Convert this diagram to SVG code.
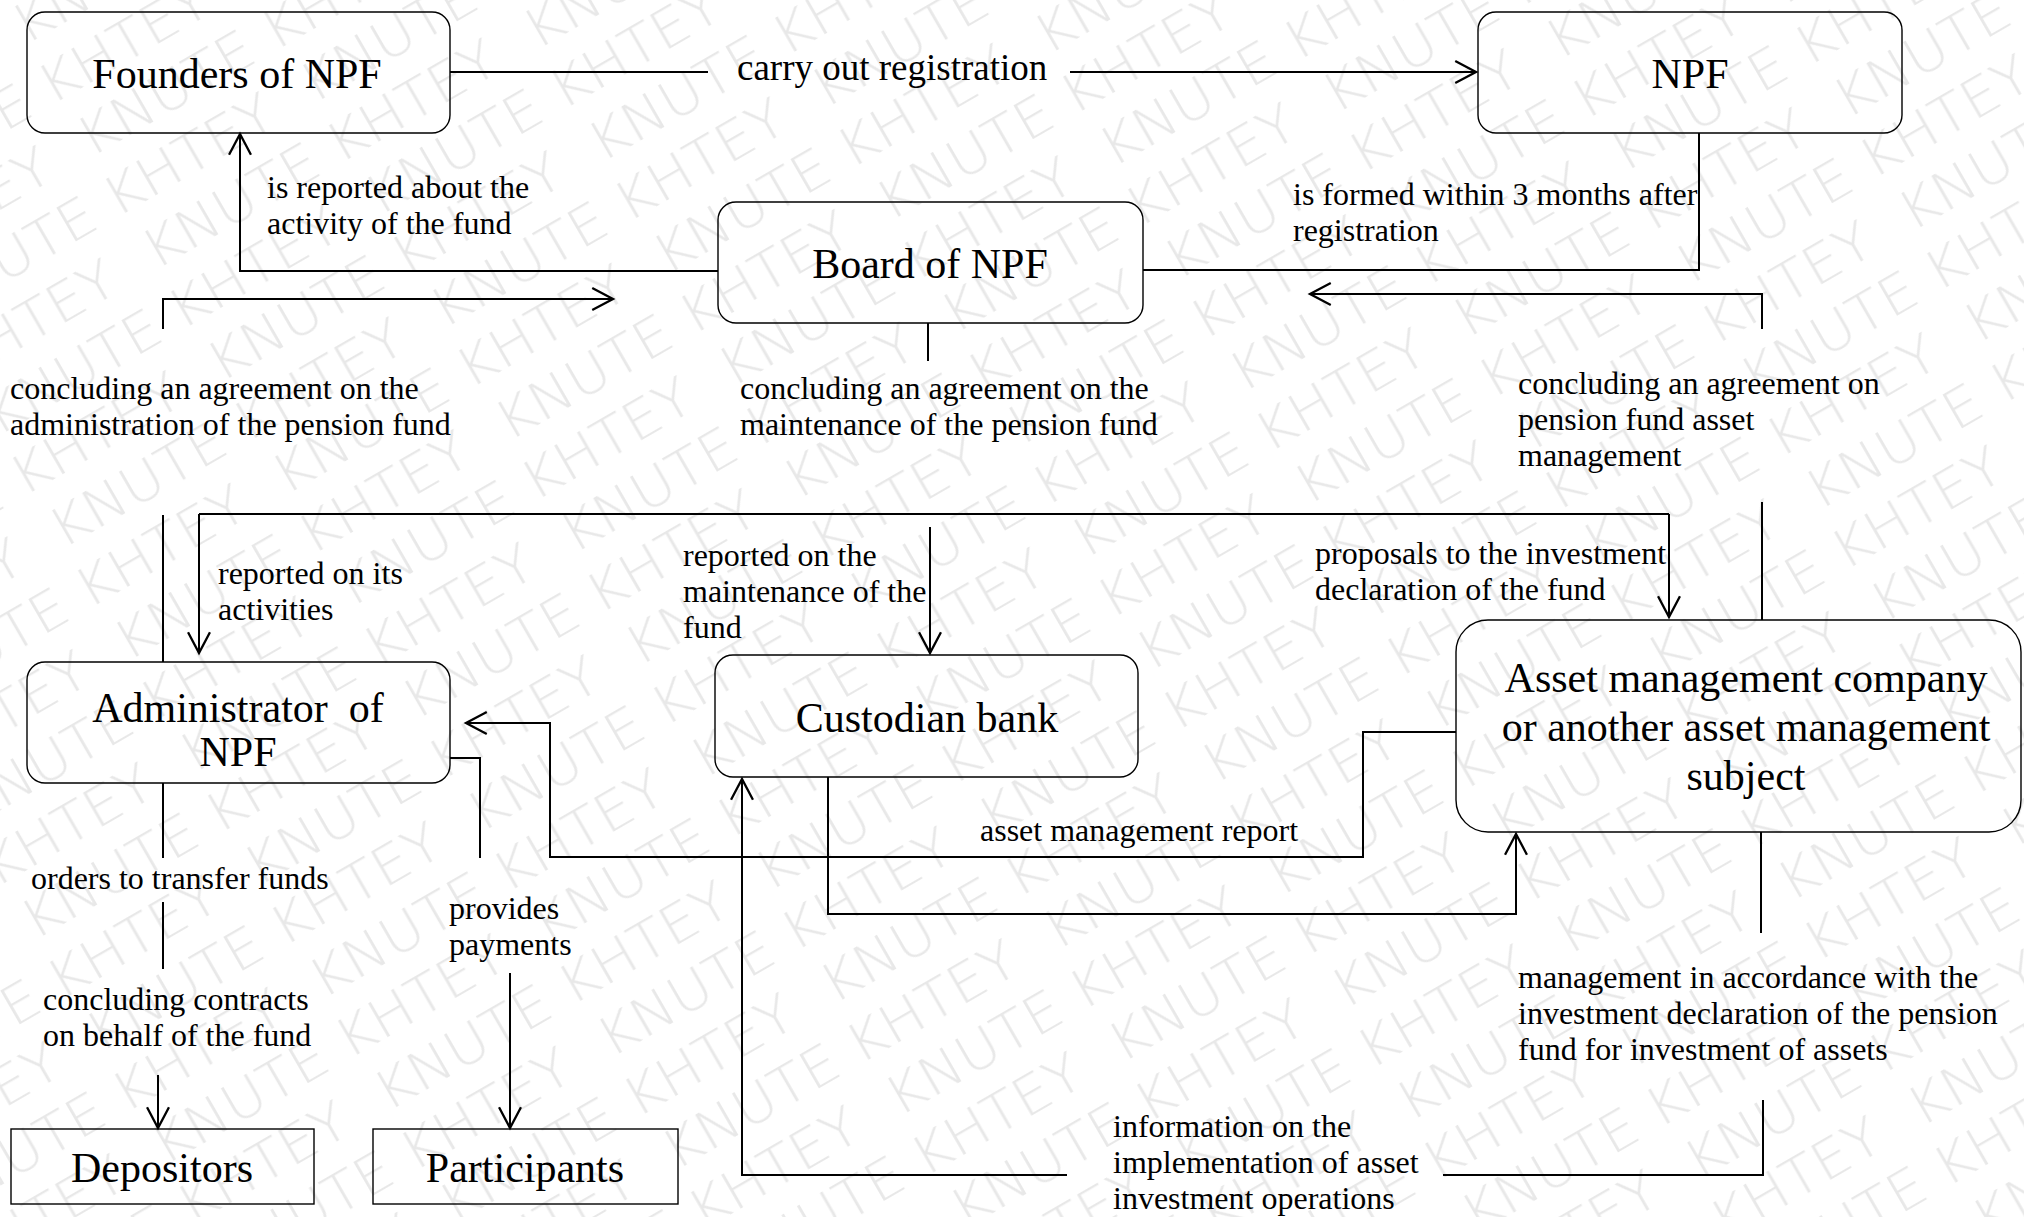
<svg xmlns="http://www.w3.org/2000/svg" width="2024" height="1217" viewBox="0 0 2024 1217">
  <style>
    .box { fill: none; stroke: #000; stroke-width: 1.4; }
    .ttl { font-family: "Liberation Serif", "Times New Roman", serif; font-size: 42px; fill: #000; text-anchor: middle; }
    .lbl { font-family: "Liberation Serif", "Times New Roman", serif; font-size: 32px; fill: #000; }
    .big { font-size: 37px; }
    .ln { fill: none; stroke: #000; stroke-width: 2; }
    .wm { font-family: "DejaVu Sans", sans-serif; font-weight: 200; font-size: 54px; fill: #e8e8e8; }
  </style>
  <defs>
    <marker id="arr" markerUnits="userSpaceOnUse" markerWidth="30" markerHeight="30" viewBox="-22 -12 26 24" refX="0" refY="0" orient="auto" overflow="visible">
      <path d="M-18,-9.5 L0,0 L-18,9.5" fill="none" stroke="#000" stroke-width="2"/>
    </marker>
    <pattern id="wmark" patternUnits="userSpaceOnUse" width="440" height="130" patternTransform="rotate(-30)">
      <text class="wm" x="0" y="52" textLength="400" lengthAdjust="spacingAndGlyphs">KNUTE KHTEY</text>
      <text class="wm" x="220" y="117" textLength="400" lengthAdjust="spacingAndGlyphs">KNUTE KHTEY</text>
      <text class="wm" x="-220" y="117" textLength="400" lengthAdjust="spacingAndGlyphs">KNUTE KHTEY</text>
    </pattern>
  </defs>

  <!-- background with faint repeated watermark -->
  <rect width="2024" height="1217" fill="#fff"/>
  <rect width="2024" height="1217" fill="url(#wmark)"/>

  <!-- nodes -->
  <g id="founders">
    <rect class="box" x="27" y="12" width="423" height="121" rx="18"/>
    <text class="ttl" x="237" y="88">Founders of NPF</text>
  </g>
  <g id="npf">
    <rect class="box" x="1478" y="12" width="424" height="121" rx="18"/>
    <text class="ttl" x="1690" y="88">NPF</text>
  </g>
  <g id="board">
    <rect class="box" x="718" y="202" width="425" height="121" rx="18"/>
    <text class="ttl" x="930" y="278">Board of NPF</text>
  </g>
  <g id="administrator">
    <rect class="box" x="27" y="662" width="423" height="121" rx="18"/>
    <text class="ttl" x="238" y="722" xml:space="preserve">Administrator  of</text>
    <text class="ttl" x="238" y="766">NPF</text>
  </g>
  <g id="custodian">
    <rect class="box" x="715" y="655" width="423" height="122" rx="18"/>
    <text class="ttl" x="927" y="732">Custodian bank</text>
  </g>
  <g id="asset-manager">
    <rect class="box" x="1456" y="620" width="565" height="212" rx="32"/>
    <text class="ttl" x="1746" y="692">Asset management company</text>
    <text class="ttl" x="1746" y="741">or another asset management</text>
    <text class="ttl" x="1746" y="790">subject</text>
  </g>
  <g id="depositors">
    <rect class="box" x="11" y="1129" width="303" height="75"/>
    <text class="ttl" x="162" y="1182">Depositors</text>
  </g>
  <g id="participants">
    <rect class="box" x="373" y="1129" width="305" height="75"/>
    <text class="ttl" x="525" y="1182">Participants</text>
  </g>

  <!-- connectors -->
  <g id="connectors">
    <path class="ln" d="M450,72 H708"/>
    <path class="ln" d="M1070,72 H1476" marker-end="url(#arr)"/>
    <path class="ln" d="M718,271 H240 V134" marker-end="url(#arr)"/>
    <path class="ln" d="M1699,133 V270 H1143"/>
    <path class="ln" d="M1762,329 V294 H1310" marker-end="url(#arr)"/>
    <path class="ln" d="M1762,502 V620"/>
    <path class="ln" d="M163,329 V299 H613" marker-end="url(#arr)"/>
    <path class="ln" d="M163,515 V662"/>
    <path class="ln" d="M928,323 V361"/>
    <path class="ln" d="M930,527 V653" marker-end="url(#arr)"/>
    <path class="ln" d="M199,514 H1669"/>
    <path class="ln" d="M199,514 V653" marker-end="url(#arr)"/>
    <path class="ln" d="M1669,514 V617" marker-end="url(#arr)"/>
    <path class="ln" d="M1456,732 H1363 V857 H550 V723 H466" marker-end="url(#arr)"/>
    <path class="ln" d="M450,758 H480 V858"/>
    <path class="ln" d="M510,973 V1128" marker-end="url(#arr)"/>
    <path class="ln" d="M163,783 V858"/>
    <path class="ln" d="M163,902 V969"/>
    <path class="ln" d="M158,1075 V1128" marker-end="url(#arr)"/>
    <path class="ln" d="M828,777 V914 H1516 V834" marker-end="url(#arr)"/>
    <path class="ln" d="M1761,832 V933"/>
    <path class="ln" d="M1763,1100 V1175 H1443"/>
    <path class="ln" d="M1067,1175 H742 V779" marker-end="url(#arr)"/>
  </g>

  <!-- connector labels -->
  <g id="labels">
    <text class="lbl big" x="737" y="80">carry out registration</text>
    <text class="lbl" x="267" y="198">is reported about the</text>
    <text class="lbl" x="267" y="234">activity of the fund</text>
    <text class="lbl" x="1293" y="205">is formed within 3 months after</text>
    <text class="lbl" x="1293" y="241">registration</text>
    <text class="lbl" x="10" y="399">concluding an agreement on the</text>
    <text class="lbl" x="10" y="435">administration of the pension fund</text>
    <text class="lbl" x="740" y="399">concluding an agreement on the</text>
    <text class="lbl" x="740" y="435">maintenance of the pension fund</text>
    <text class="lbl" x="1518" y="394">concluding an agreement on</text>
    <text class="lbl" x="1518" y="430">pension fund asset</text>
    <text class="lbl" x="1518" y="466">management</text>
    <text class="lbl" x="218" y="584">reported on its</text>
    <text class="lbl" x="218" y="620">activities</text>
    <text class="lbl" x="683" y="566">reported on the</text>
    <text class="lbl" x="683" y="602">maintenance of the</text>
    <text class="lbl" x="683" y="638">fund</text>
    <text class="lbl" x="1315" y="564">proposals to the investment</text>
    <text class="lbl" x="1315" y="600">declaration of the fund</text>
    <text class="lbl" x="980" y="841">asset management report</text>
    <text class="lbl" x="31" y="889">orders to transfer funds</text>
    <text class="lbl" x="449" y="919">provides</text>
    <text class="lbl" x="449" y="955">payments</text>
    <text class="lbl" x="43" y="1010">concluding contracts</text>
    <text class="lbl" x="43" y="1046">on behalf of the fund</text>
    <text class="lbl" x="1518" y="988">management in accordance with the</text>
    <text class="lbl" x="1518" y="1024">investment declaration of the pension</text>
    <text class="lbl" x="1518" y="1060">fund for investment of assets</text>
    <text class="lbl" x="1113" y="1137">information on the</text>
    <text class="lbl" x="1113" y="1173">implementation of asset</text>
    <text class="lbl" x="1113" y="1209">investment operations</text>
  </g>
</svg>
